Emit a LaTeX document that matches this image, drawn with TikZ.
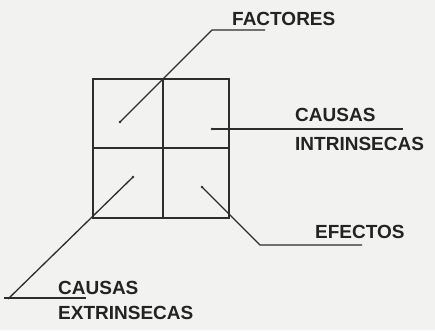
\documentclass[tikz,border=0pt]{standalone}
\usepackage{fontspec}
\setmainfont{Liberation Sans}
\definecolor{ink}{RGB}{45,45,45}
\definecolor{textink}{RGB}{35,35,35}
\definecolor{paper}{RGB}{242,242,240}
\begin{document}
\begin{tikzpicture}[x=1pt,y=-1pt,
  frame/.style={draw=ink,line width=2pt},
  leader/.style={draw=ink,line width=1.3pt},
  lab/.style={anchor=west,inner sep=0pt,text=textink,font=\fontsize{19}{19}\selectfont\bfseries},
  dotmark/.style={fill=ink,circle,inner sep=0pt,minimum size=2.6pt}]
\fill[paper] (0,0) rectangle (435,330);
\useasboundingbox (0,0) rectangle (435,330);
% grid
\draw[frame] (93,79) rectangle (229,218);
\draw[frame] (163,79) -- (163,218);
\draw[frame] (93,148) -- (229,148);
% anchor points
\node[dotmark] (d1) at (120,122) {};
\node[dotmark] (d2) at (212,129) {};
\node[dotmark] (d3) at (133,177) {};
\node[dotmark] (d4) at (202,187) {};
\coordinate (k1) at (212,30);
\coordinate (e1) at (265,30);
\coordinate (e2) at (403,129);
\coordinate (k3) at (8,299);
\coordinate (s3) at (4,298);
\coordinate (e3) at (86,298);
\coordinate (k4) at (260,245);
\coordinate (e4) at (362,245);
% labels
\node[lab] (fac) at (232,18.5) {FACTORES};
\node[lab] (ci1) at (295,114.5) {CAUSAS};
\node[lab] (ci2) at (295,144) {INTRINSECAS};
\node[lab] (efe) at (315,231.5) {EFECTOS};
\node[lab] (ce1) at (58,287.5) {CAUSAS};
\node[lab] (ce2) at (58,312.5) {EXTRINSECAS};
% leaders
\draw[leader] (d1.center) -- (k1) -- (e1);
\draw[leader] (d2.center) -- (e2);
\draw[leader] (d3.center) -- (k3);
\draw[leader] (s3) -- (e3);
\draw[leader] (d4.center) -- (k4) -- (e4);
\end{tikzpicture}
\end{document}
